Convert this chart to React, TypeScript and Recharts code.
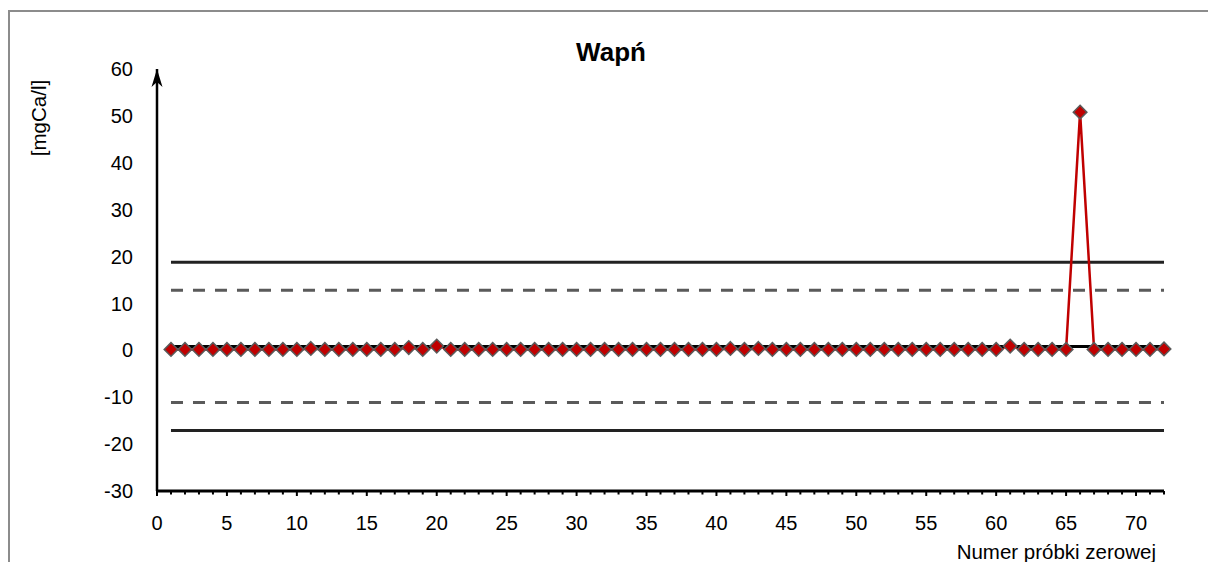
import React from 'react';
import { LineChart, Line, XAxis, YAxis, ReferenceDot } from 'recharts';

const samples: number[] = Array.from({ length: 72 }, (_, i) => i + 1);

const calcium: number[] = [
  0.2, 0.2, 0.2, 0.2, 0.2, 0.2, 0.2, 0.2, 0.2, 0.2,
  0.4, 0.2, 0.2, 0.2, 0.2, 0.2, 0.2, 0.6, 0.2, 0.9,
  0.2, 0.2, 0.2, 0.2, 0.2, 0.2, 0.2, 0.2, 0.2, 0.2,
  0.2, 0.2, 0.2, 0.2, 0.2, 0.2, 0.2, 0.2, 0.2, 0.2,
  0.4, 0.2, 0.4, 0.2, 0.2, 0.2, 0.2, 0.2, 0.2, 0.2,
  0.2, 0.2, 0.2, 0.2, 0.2, 0.2, 0.2, 0.2, 0.2, 0.2,
  0.9, 0.2, 0.2, 0.2, 0.2, 50.8, 0.2, 0.2, 0.2, 0.2,
  0.2, 0.3,
];

// control / warning limits
const upperControl = 18.8;
const upperWarning = 12.8;
const centerLine = 0.8;
const lowerWarning = -11.1;
const lowerControl = -17.1;

const yTicks = [-30, -20, -10, 0, 10, 20, 30, 40, 50, 60];
const xTicks: number[] = Array.from({ length: 73 }, (_, i) => i);

const rows = samples.map((n, i) => ({
  n,
  value: calcium[i],
  ucl: upperControl,
  uwl: upperWarning,
  cl: centerLine,
  lwl: lowerWarning,
  lcl: lowerControl,
}));

const FONT = '"Liberation Sans", Arial, sans-serif';

const Diamond = (props: any) => {
  const { cx, cy } = props;
  if (cx == null || cy == null) return null;
  const r = 6.8;
  return (
    <path
      d={`M${cx},${cy - r} L${cx + r},${cy} L${cx},${cy + r} L${cx - r},${cy} Z`}
      fill="#c00000"
      stroke="#5a5a5a"
      strokeWidth={1.5}
    />
  );
};

const XTick = (props: any) => {
  const { x, y, payload } = props;
  const v = payload.value as number;
  const major = v % 5 === 0;
  return (
    <g>
      <line x1={x} x2={x} y1={y} y2={y + (major ? 5 : 3.5)} stroke="#000" strokeWidth={2} />
      {major && v <= 70 && (
        <text x={x} y={y + 39} textAnchor="middle" fontSize={20} fontFamily={FONT} fill="#000">
          {v}
        </text>
      )}
    </g>
  );
};

const Arrow = (props: any) => {
  const { cx, cy } = props;
  return <path d={`M${cx},${cy} L${cx + 5.5},${cy + 18} L${cx},${cy + 13} L${cx - 5.5},${cy + 18} Z`} fill="#000" />;
};

export default function App() {
  return (
    <div style={{ position: 'absolute', left: 0, top: 0, width: 1208, height: 562, background: '#fff' }}>
      <div
        style={{
          position: 'absolute',
          left: 8,
          top: 10,
          width: 1220,
          height: 570,
          borderTop: '2px solid #8c8c8c',
          borderLeft: '2px solid #8c8c8c',
        }}
      />
      <LineChart
        width={1208}
        height={562}
        data={rows}
        margin={{ top: 69, right: 44, left: 97, bottom: 0 }}
        style={{ position: 'absolute', left: 0, top: 0 }}
      >
        <text x={611} y={61} textAnchor="middle" fontSize={26} fontWeight="bold" fontFamily={FONT} fill="#000">
          Wapń
        </text>
        <text
          x={38}
          y={118}
          transform="rotate(-90 38 118)"
          textAnchor="middle"
          dominantBaseline="central"
          fontSize={20.5}
          fontFamily={FONT}
          fill="#000"
        >
          [mgCa/l]
        </text>
        <text x={1156} y={559} textAnchor="end" fontSize={20.5} fontFamily={FONT} fill="#000">
          Numer próbki zerowej
        </text>
        <XAxis
          dataKey="n"
          type="number"
          domain={[0, 72]}
          ticks={xTicks}
          interval={0}
          height={71}
          tickSize={0}
          tickMargin={0}
          tickLine={false}
          axisLine={{ stroke: '#000', strokeWidth: 3 }}
          tick={<XTick />}
        />
        <YAxis
          type="number"
          domain={[-30, 60]}
          ticks={yTicks}
          width={60}
          tickLine={false}
          tickSize={0}
          tickMargin={24}
          axisLine={{ stroke: '#000', strokeWidth: 2.5 }}
          tick={{ fontSize: 20, fontFamily: FONT, fill: '#000' }}
        />
        <Line dataKey="ucl" stroke="#222" strokeWidth={3} dot={false} isAnimationActive={false} />
        <Line dataKey="uwl" stroke="#5a5a5a" strokeWidth={3} strokeDasharray="12 10" dot={false} isAnimationActive={false} />
        <Line dataKey="lwl" stroke="#5a5a5a" strokeWidth={3} strokeDasharray="12 10" dot={false} isAnimationActive={false} />
        <Line dataKey="lcl" stroke="#222" strokeWidth={3} dot={false} isAnimationActive={false} />
        <Line
          dataKey="value"
          stroke="#c00000"
          strokeWidth={2.5}
          dot={<Diamond />}
          activeDot={false}
          isAnimationActive={false}
        />
        <Line dataKey="cl" stroke="#000" strokeWidth={3} dot={false} isAnimationActive={false} />
        <ReferenceDot x={0} y={60} r={0} shape={<Arrow />} ifOverflow="visible" />
      </LineChart>
    </div>
  );
}
